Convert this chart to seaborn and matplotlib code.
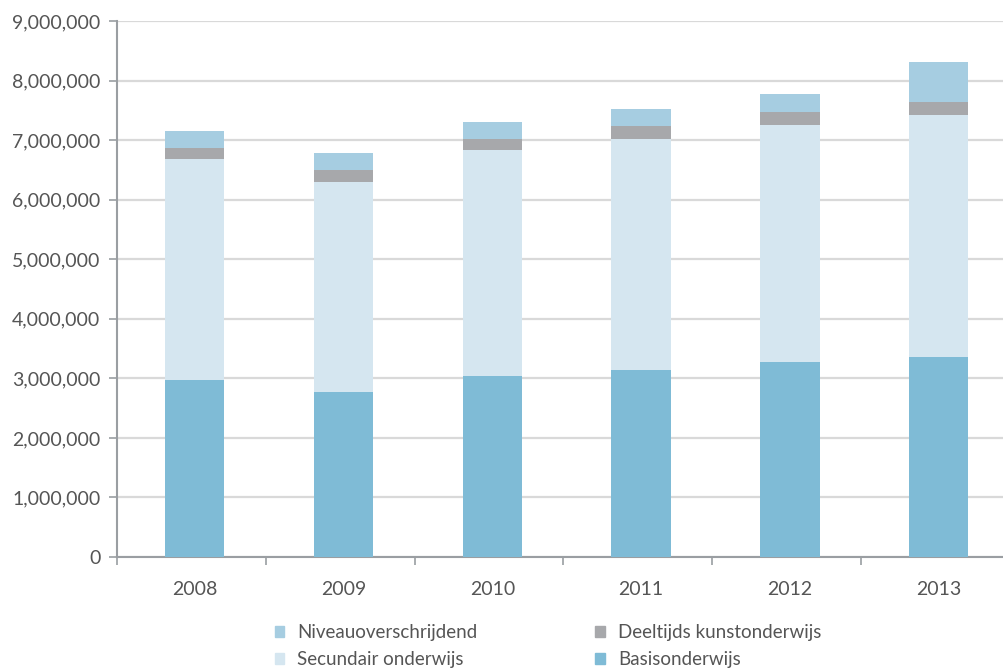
import matplotlib
matplotlib.use("Agg")
import matplotlib.pyplot as plt
import matplotlib.patches as mpatches
from matplotlib.ticker import FuncFormatter, FixedLocator
import seaborn as sns
import pandas as pd
import numpy as np

years = ["2008", "2009", "2010", "2011", "2012", "2013"]
basis = [2980000, 2770000, 3040000, 3140000, 3270000, 3360000]
secundair = [3710000, 3530000, 3790000, 3880000, 3980000, 4060000]
deeltijds = [180000, 200000, 190000, 220000, 220000, 220000]
niveau = [280000, 280000, 280000, 280000, 310000, 670000]

series = [
    ("Basisonderwijs", basis, "#7fbbd6"),
    ("Secundair onderwijs", secundair, "#d5e6f0"),
    ("Deeltijds kunstonderwijs", deeltijds, "#a7a8ab"),
    ("Niveauoverschrijdend", niveau, "#a6cde1"),
]

sns.set_theme(style="white")
plt.rcParams["font.family"] = ["Lato", "DejaVu Sans"]

W, H = 1004, 671
fig = plt.figure(figsize=(W / 100, H / 100), dpi=100)
ax_left, ax_bottom, ax_top = 117, 557, 21
ax_width = 6 * 148.8
ax = fig.add_axes([ax_left / W, 1 - ax_bottom / H, ax_width / W, (ax_bottom - ax_top) / H])

cum = np.zeros(len(years))
cums = []
for name, vals, color in series:
    cum = cum + np.array(vals)
    cums.append((name, cum.copy(), color))

for name, c, color in reversed(cums):
    df = pd.DataFrame({"year": years, "value": c})
    sns.barplot(data=df, x="year", y="value", color=color, width=0.40,
                saturation=1, ax=ax, zorder=3, edgecolor="none", linewidth=0)

shift = 0.022
ax.set_xlim(-0.5 - shift, 5.5 - shift)
ax.set_ylim(0, 9000000)
ax.set_yticks(np.arange(0, 9000001, 1000000))
ax.yaxis.set_major_formatter(FuncFormatter(lambda v, p: f"{int(v):,}"))
ax.grid(axis="y", color="#d9d9d9", linewidth=1.6, zorder=0)
ax.set_axisbelow(True)
ax.set_xlabel("")
ax.set_ylabel("")

for s in ["top", "right"]:
    ax.spines[s].set_visible(False)
for s in ["left", "bottom"]:
    ax.spines[s].set_color("#9a9ea2")
    ax.spines[s].set_linewidth(1.5)

ax.tick_params(axis="y", which="major", left=True, length=6, width=1.2,
               color="#9a9ea2", labelsize=14, labelcolor="#555555", pad=6)
ax.tick_params(axis="x", which="major", bottom=False, labelsize=14,
               labelcolor="#555555", pad=11)
ax.xaxis.set_minor_locator(FixedLocator(np.arange(-0.5, 5.5, 1.0) - shift))
ax.tick_params(axis="x", which="minor", bottom=True, length=6, width=1.2,
               color="#9a9ea2")

order = [3, 1, 2, 0]
handles = [mpatches.Patch(color=series[i][2], label=series[i][0]) for i in order]
fig.legend(handles=handles, loc="center", bbox_to_anchor=(548 / W, 1 - 646 / H),
           ncol=2, frameon=False, fontsize=13.5, handlelength=0.5,
           handleheight=0.5, handletextpad=0.7, columnspacing=6.3,
           labelspacing=0.55, labelcolor="#555555")

fig.savefig("out.png", dpi=100)
